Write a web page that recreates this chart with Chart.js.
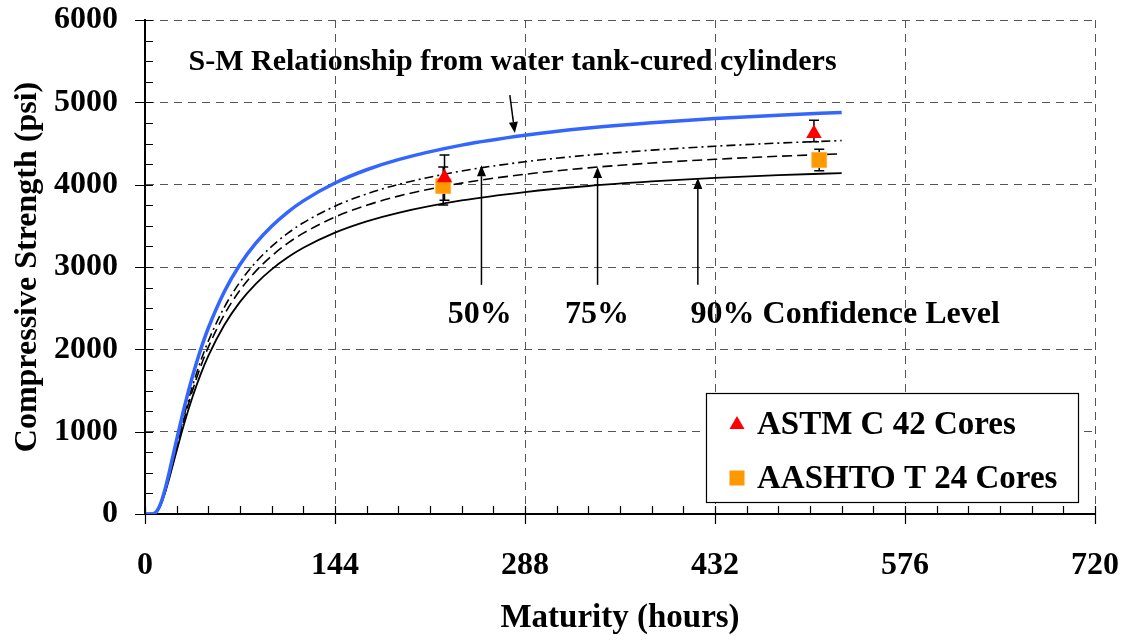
<!DOCTYPE html>
<html><head><meta charset="utf-8">
<script src="https://cdn.jsdelivr.net/npm/chart.js@4.4.0/dist/chart.umd.min.js"></script>
<style>html,body{margin:0;padding:0;background:#fff}#wrap{width:1128px;height:640px}canvas{display:block}</style>
</head><body><div id="wrap"><canvas id="c" width="1128" height="640"></canvas></div>
<script>
// ---- data ----
const hours    = [0, 6, 9, 12, 15, 18, 24, 30, 36, 42, 48, 60, 72, 84, 96, 108, 120, 144, 168, 192, 240, 288, 336, 384, 432, 480, 528];
const smCurve  = [0, 2, 35, 132, 288, 481, 903, 1310, 1672, 1988, 2259, 2697, 3030, 3289, 3495, 3664, 3803, 4020, 4181, 4304, 4480, 4600, 4687, 4752, 4803, 4844, 4877];
const conf50   = [0, 2, 33, 123, 268, 447, 840, 1218, 1555, 1849, 2101, 2508, 2818, 3059, 3250, 3408, 3537, 3739, 3888, 4003, 4166, 4278, 4359, 4419, 4467, 4505, 4536];
const conf75   = [0, 2, 31, 118, 258, 431, 810, 1175, 1500, 1783, 2026, 2419, 2718, 2950, 3135, 3287, 3411, 3606, 3750, 3861, 4019, 4126, 4204, 4263, 4308, 4345, 4375];
const conf90   = [0, 2, 30, 112, 245, 409, 768, 1114, 1421, 1690, 1920, 2292, 2576, 2796, 2971, 3114, 3233, 3417, 3554, 3658, 3808, 3910, 3984, 4039, 4083, 4117, 4140];

const astmHours    = [227, 507];
const astmStrength = [4085, 4620];
const astmLow      = [3810, 4522];
const astmHigh     = [4360, 4783];

const aashtoHours    = [226, 511];
const aashtoStrength = [3984, 4300];
const aashtoLow      = [3754, 4170];
const aashtoHigh     = [4215, 4430];

const xTickValues = [0, 144, 288, 432, 576, 720];
const yTickValues = [0, 1000, 2000, 3000, 4000, 5000, 6000];
const xMinorStep = 24;
const yMinorStep = 250;

const seriesLabels = ['ASTM C 42 Cores', 'AASHTO T 24 Cores'];
const smLabel = 'S-M Relationship from water tank-cured cylinders';
const confLabels = ['50%', '75%', '90% Confidence Level'];
const confArrowHours = [255, 343, 419];
const confArrowTips  = [4237, 4215, 4081];
const xTitle = 'Maturity (hours)';
const yTitle = 'Compressive Strength (psi)';

// ---- styling / layout ----
const FONT = '"Liberation Serif", "Times New Roman", serif';
const BLUE = '#3366FF';
const layoutCfg = {
  smText: {h: 33, v: 5390}, smArrow: {h1: 276.5, v1: 5088, h2: 280.3, v2: 4627},
  confTextV: 2322, confTextH: [253.7, 342.6, 530.7], confTailV: 2783,
  legendBox: {x: 706, y: 393, w: 372, h: 109}
};

const pts = (xs, ys) => xs.map((v, i) => ({x: v, y: ys[i]}));

const decor = {
  id: 'decor',
  beforeDatasetsDraw(chart) {
    const {ctx, scales: {x, y}} = chart;
    ctx.save();
    ctx.strokeStyle = '#000'; ctx.lineWidth = 1.5;
    const bars = (hs, lo, hi) => hs.forEach((h, i) => {
      const px = x.getPixelForValue(h), p1 = y.getPixelForValue(lo[i]), p2 = y.getPixelForValue(hi[i]);
      ctx.beginPath();
      ctx.moveTo(px, p1); ctx.lineTo(px, p2);
      ctx.moveTo(px - 5, p1); ctx.lineTo(px + 5, p1);
      ctx.moveTo(px - 5, p2); ctx.lineTo(px + 5, p2);
      ctx.stroke();
    });
    bars(astmHours, astmLow, astmHigh);
    bars(aashtoHours, aashtoLow, aashtoHigh);
    ctx.restore();
  },
  afterDraw(chart) {
    const {ctx, chartArea: ca, scales: {x, y}} = chart;
    ctx.save();
    // tick marks
    ctx.strokeStyle = '#000'; ctx.lineWidth = 1.2;
    ctx.beginPath();
    for (let h = 0; h <= x.max + 0.001; h += xMinorStep) {
      const px = Math.round(x.getPixelForValue(h)) + 0.5;
      const major = xTickValues.includes(h);
      ctx.moveTo(px, ca.bottom - 8); ctx.lineTo(px, ca.bottom + (major ? 10 : 0));
    }
    for (let v = 0; v <= y.max + 0.001; v += yMinorStep) {
      const py = Math.round(y.getPixelForValue(v)) + 0.5;
      const major = yTickValues.includes(v);
      ctx.moveTo(ca.left + 8, py); ctx.lineTo(ca.left - (major ? 10 : 0), py);
    }
    ctx.stroke();

    // arrows
    const arrow = (x1, y1, x2, y2) => {
      const a = Math.atan2(y2 - y1, x2 - x1), L = 11, W = 4.5;
      ctx.beginPath(); ctx.moveTo(x1, y1);
      ctx.lineTo(x2 - L * Math.cos(a), y2 - L * Math.sin(a)); ctx.stroke();
      ctx.beginPath(); ctx.moveTo(x2, y2);
      ctx.lineTo(x2 - L * Math.cos(a) + W * Math.sin(a), y2 - L * Math.sin(a) - W * Math.cos(a));
      ctx.lineTo(x2 - L * Math.cos(a) - W * Math.sin(a), y2 - L * Math.sin(a) + W * Math.cos(a));
      ctx.closePath(); ctx.fill();
    };
    ctx.lineWidth = 1.5; ctx.fillStyle = '#000';
    const sa = layoutCfg.smArrow;
    arrow(x.getPixelForValue(sa.h1), y.getPixelForValue(sa.v1), x.getPixelForValue(sa.h2), y.getPixelForValue(sa.v2));
    confArrowHours.forEach((h, i) => {
      const px = x.getPixelForValue(h);
      arrow(px, y.getPixelForValue(layoutCfg.confTailV), px, y.getPixelForValue(confArrowTips[i]));
    });

    // annotation texts
    ctx.fillStyle = '#000'; ctx.textBaseline = 'alphabetic';
    ctx.font = 'bold 30px ' + FONT; ctx.textAlign = 'left';
    ctx.fillText(smLabel, x.getPixelForValue(layoutCfg.smText.h), y.getPixelForValue(layoutCfg.smText.v));
    ctx.font = 'bold 32px ' + FONT; ctx.textAlign = 'center';
    confLabels.forEach((t, i) => ctx.fillText(t, x.getPixelForValue(layoutCfg.confTextH[i]), y.getPixelForValue(layoutCfg.confTextV)));

    // legend
    const lb = layoutCfg.legendBox;
    ctx.fillStyle = '#fff'; ctx.fillRect(lb.x, lb.y, lb.w, lb.h);
    ctx.strokeStyle = '#000'; ctx.lineWidth = 1.2; ctx.strokeRect(lb.x + 0.5, lb.y + 0.5, lb.w, lb.h);
    const mx = lb.x + 31;
    let cy = lb.y + 31;
    ctx.fillStyle = '#FF0000';
    ctx.beginPath(); ctx.moveTo(mx, cy - 8); ctx.lineTo(mx + 7.5, cy + 5); ctx.lineTo(mx - 7.5, cy + 5); ctx.closePath(); ctx.fill();
    cy = lb.y + 85;
    ctx.fillStyle = '#FF9900'; ctx.fillRect(mx - 7.5, cy - 7.5, 15, 15);
    ctx.fillStyle = '#000'; ctx.textAlign = 'left'; ctx.font = 'bold 33px ' + FONT;
    ctx.fillText(seriesLabels[0], lb.x + 51, lb.y + 41);
    ctx.fillText(seriesLabels[1], lb.x + 51, lb.y + 95);
    ctx.restore();
  }
};

new Chart(document.getElementById('c'), {
  type: 'scatter',
  data: {
    datasets: [
      {label: seriesLabels[0], data: pts(astmHours, astmStrength), pointStyle: 'triangle', pointRadius: 9,
       backgroundColor: '#FF0000', borderColor: '#FF0000', borderWidth: 0},
      {label: seriesLabels[1], data: pts(aashtoHours, aashtoStrength), pointStyle: 'rect', pointRadius: 10.5,
       backgroundColor: '#FF9900', borderColor: '#FFB040', borderWidth: 1},
      {label: smLabel, data: pts(hours, smCurve), showLine: true, pointRadius: 0, borderColor: BLUE, borderWidth: 3.5,
       cubicInterpolationMode: 'monotone'},
      {label: '50%', data: pts(hours, conf50), showLine: true, pointRadius: 0, borderColor: '#000', borderWidth: 1.6,
       borderDash: [9, 4, 2, 4], cubicInterpolationMode: 'monotone'},
      {label: '75%', data: pts(hours, conf75), showLine: true, pointRadius: 0, borderColor: '#000', borderWidth: 1.6,
       borderDash: [10, 5], cubicInterpolationMode: 'monotone'},
      {label: '90%', data: pts(hours, conf90), showLine: true, pointRadius: 0, borderColor: '#000', borderWidth: 1.8,
       cubicInterpolationMode: 'monotone'}
    ]
  },
  options: {
    responsive: false, animation: false, devicePixelRatio: 1,
    layout: {padding: {top: 20, right: 33, left: 0, bottom: 0}},
    plugins: {legend: {display: false}, tooltip: {enabled: false}},
    scales: {
      x: {
        type: 'linear', min: 0, max: 720,
        afterBuildTicks: s => { s.ticks = xTickValues.map(v => ({value: v})); },
        afterFit: s => { s.height = 126; s.paddingLeft = 0; s.paddingRight = 0; },
        ticks: {font: {family: FONT, size: 32, weight: 'bold'}, color: '#000', padding: 33, maxRotation: 0,
                callback: v => String(v)},
        grid: {color: '#555', lineWidth: 1, drawTicks: false},
        border: {color: '#000', width: 2, dash: [8, 6]},
        title: {display: true, text: xTitle, color: '#000', font: {family: FONT, size: 33, weight: 'bold'}, padding: {top: 0, bottom: 2}}
      },
      y: {
        type: 'linear', min: 0, max: 6000,
        afterBuildTicks: s => { s.ticks = yTickValues.map(v => ({value: v})); },
        afterFit: s => { s.width = 145; s.paddingTop = 0; s.paddingBottom = 0; },
        ticks: {font: {family: FONT, size: 32, weight: 'bold'}, color: '#000', padding: 27,
                callback: v => String(v)},
        grid: {color: '#555', lineWidth: 1, drawTicks: false},
        border: {color: '#000', width: 2, dash: [8, 6]},
        title: {display: true, text: yTitle, color: '#000', font: {family: FONT, size: 32, weight: 'bold'}, padding: {top: 9, bottom: 0}}
      }
    }
  },
  plugins: [decor]
});
</script>
</body></html>
